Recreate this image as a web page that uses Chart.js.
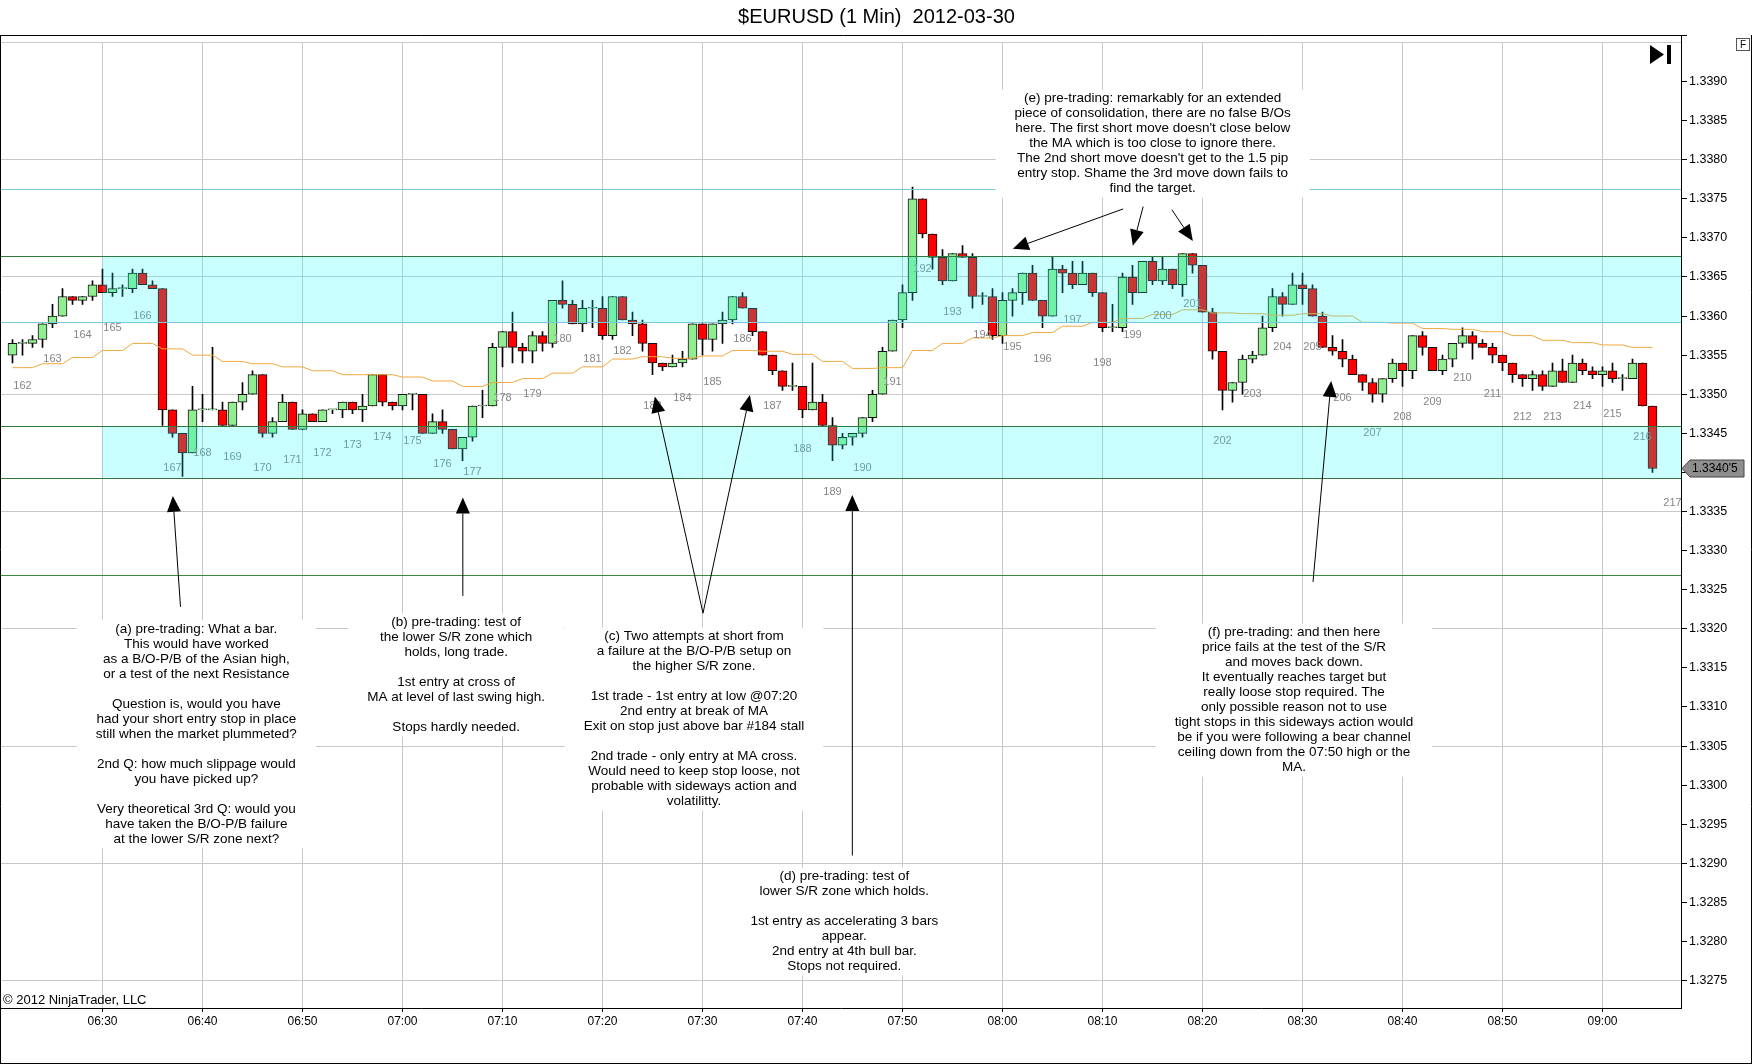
<!DOCTYPE html>
<html>
<head>
<meta charset="utf-8">
<title>$EURUSD (1 Min) 2012-03-30</title>
<script src="https://cdn.jsdelivr.net/npm/chart.js@4.4.1/dist/chart.umd.min.js"></script>
<style>
  html, body { margin: 0; padding: 0; background: #fff; }
  #wrap { width: 1752px; height: 1064px; }
</style>
</head>
<body>
<div id="wrap"><canvas id="chart" width="1752" height="1064"></canvas></div>
<script>
// one-minute bars, 06:21 - 09:05
const barTimes = [
  '06:21','06:22','06:23','06:24','06:25','06:26','06:27','06:28','06:29','06:30',
  '06:31','06:32','06:33','06:34','06:35','06:36','06:37','06:38','06:39','06:40',
  '06:41','06:42','06:43','06:44','06:45','06:46','06:47','06:48','06:49','06:50',
  '06:51','06:52','06:53','06:54','06:55','06:56','06:57','06:58','06:59','07:00',
  '07:01','07:02','07:03','07:04','07:05','07:06','07:07','07:08','07:09','07:10',
  '07:11','07:12','07:13','07:14','07:15','07:16','07:17','07:18','07:19','07:20',
  '07:21','07:22','07:23','07:24','07:25','07:26','07:27','07:28','07:29','07:30',
  '07:31','07:32','07:33','07:34','07:35','07:36','07:37','07:38','07:39','07:40',
  '07:41','07:42','07:43','07:44','07:45','07:46','07:47','07:48','07:49','07:50',
  '07:51','07:52','07:53','07:54','07:55','07:56','07:57','07:58','07:59','08:00',
  '08:01','08:02','08:03','08:04','08:05','08:06','08:07','08:08','08:09','08:10',
  '08:11','08:12','08:13','08:14','08:15','08:16','08:17','08:18','08:19','08:20',
  '08:21','08:22','08:23','08:24','08:25','08:26','08:27','08:28','08:29','08:30',
  '08:31','08:32','08:33','08:34','08:35','08:36','08:37','08:38','08:39','08:40',
  '08:41','08:42','08:43','08:44','08:45','08:46','08:47','08:48','08:49','08:50',
  '08:51','08:52','08:53','08:54','08:55','08:56','08:57','08:58','08:59','09:00',
  '09:01','09:02','09:03','09:04','09:05'
];

const opens = [
  1.3355, 1.33565, 1.33565, 1.3357, 1.3359, 1.3360, 1.33625, 1.3362, 1.33625, 1.3364,
  1.3363, 1.33635, 1.33635, 1.33655, 1.3364, 1.33635, 1.3348, 1.3345, 1.33425, 1.3348,
  1.3348, 1.3348, 1.3346, 1.3349, 1.3350, 1.33525, 1.3345, 1.33465, 1.3349, 1.33455,
  1.33475, 1.33465, 1.3348, 1.3348, 1.3349, 1.3348, 1.33485, 1.33525, 1.3349, 1.33485,
  1.3350, 1.3350, 1.3345, 1.33465, 1.33455, 1.3343, 1.33445, 1.33485, 1.33485, 1.3356,
  1.3358, 1.3356, 1.33555, 1.33575, 1.33565, 1.3362, 1.33615, 1.3359, 1.3361, 1.3361,
  1.33575, 1.33625, 1.33595, 1.3359, 1.33565, 1.3354, 1.33535, 1.3354, 1.33545, 1.3359,
  1.3357, 1.3359, 1.33595, 1.33625, 1.3361, 1.3358, 1.3355, 1.3353, 1.3351, 1.3351,
  1.3348, 1.3349, 1.3346, 1.33435, 1.33445, 1.3345, 1.3347, 1.3350, 1.33555, 1.33595,
  1.3363, 1.3375, 1.33705, 1.33675, 1.33645, 1.3368, 1.33675, 1.33625, 1.33625, 1.33575,
  1.3362, 1.3363, 1.33655, 1.3362, 1.3360, 1.3366, 1.33655, 1.3364, 1.33655, 1.3363,
  1.33585, 1.33585, 1.3365, 1.3363, 1.3367, 1.33645, 1.3366, 1.3364, 1.3368, 1.33665,
  1.33605, 1.33555, 1.33505, 1.33515, 1.33545, 1.3355, 1.33585, 1.33625, 1.33615, 1.3364,
  1.33635, 1.3360, 1.3356, 1.33555, 1.33545, 1.33525, 1.33515, 1.3350, 1.3352, 1.3354,
  1.3353, 1.33575, 1.3356, 1.3353, 1.33545, 1.33565, 1.33575, 1.33565, 1.3356, 1.3355,
  1.3354, 1.33525, 1.3352, 1.33525, 1.3351, 1.3353, 1.33515, 1.3354, 1.3353, 1.33525,
  1.3353, 1.3352, 1.3352, 1.3354, 1.33485
];

const highs = [
  1.3357, 1.3357, 1.33575, 1.3359, 1.33615, 1.33635, 1.33625, 1.33625, 1.33645, 1.3366,
  1.33655, 1.3364, 1.3366, 1.3366, 1.33645, 1.33635, 1.3348, 1.3345, 1.3351, 1.3350,
  1.3356, 1.3349, 1.3349, 1.33515, 1.3353, 1.33525, 1.3347, 1.3350, 1.3349, 1.3348,
  1.33475, 1.3348, 1.3348, 1.3349, 1.3349, 1.3350, 1.33525, 1.33525, 1.3349, 1.3350,
  1.3350, 1.3350, 1.33475, 1.3348, 1.33455, 1.33445, 1.33485, 1.33505, 1.33565, 1.3358,
  1.33605, 1.33565, 1.3358, 1.3358, 1.3362, 1.33645, 1.3362, 1.3362, 1.3362, 1.33625,
  1.33625, 1.33625, 1.33605, 1.33595, 1.33565, 1.3354, 1.3355, 1.33555, 1.3359, 1.3359,
  1.3359, 1.33605, 1.33625, 1.3363, 1.3361, 1.3358, 1.3355, 1.3353, 1.3354, 1.3351,
  1.3354, 1.3350, 1.3347, 1.3345, 1.3345, 1.3347, 1.33505, 1.3356, 1.33595, 1.3364,
  1.33765, 1.3375, 1.33705, 1.33685, 1.3368, 1.3369, 1.3368, 1.3363, 1.33635, 1.3363,
  1.33635, 1.33655, 1.33665, 1.3362, 1.33675, 1.33665, 1.3367, 1.3367, 1.33655, 1.3363,
  1.33615, 1.33655, 1.33665, 1.3367, 1.33675, 1.33675, 1.3366, 1.3368, 1.3368, 1.33665,
  1.3361, 1.33555, 1.33515, 1.3355, 1.33555, 1.3360, 1.33635, 1.3363, 1.33655, 1.33655,
  1.3364, 1.33605, 1.33575, 1.3357, 1.3355, 1.33525, 1.3352, 1.3352, 1.33545, 1.3354,
  1.33575, 1.3358, 1.3356, 1.3355, 1.33565, 1.33585, 1.3358, 1.3357, 1.33565, 1.3355,
  1.3354, 1.33525, 1.3353, 1.3353, 1.3354, 1.33545, 1.3355, 1.33545, 1.33535, 1.33535,
  1.3354, 1.33525, 1.33545, 1.3354, 1.33485
];

const lows = [
  1.3354, 1.3355, 1.3356, 1.3356, 1.33585, 1.3360, 1.33615, 1.33615, 1.3362, 1.3363,
  1.33625, 1.33625, 1.3363, 1.3364, 1.33635, 1.3346, 1.33445, 1.33395, 1.33425, 1.33465,
  1.3348, 1.3346, 1.3346, 1.3348, 1.3350, 1.33445, 1.33445, 1.33465, 1.33455, 1.33455,
  1.33465, 1.33465, 1.33475, 1.3347, 1.33475, 1.33465, 1.33485, 1.33485, 1.3348, 1.3348,
  1.3348, 1.3345, 1.3345, 1.3345, 1.3343, 1.33415, 1.3344, 1.3347, 1.33485, 1.33535,
  1.3354, 1.3354, 1.3354, 1.33555, 1.3356, 1.3361, 1.3359, 1.3358, 1.33585, 1.3357,
  1.3357, 1.33595, 1.33575, 1.33555, 1.33525, 1.3353, 1.33535, 1.33535, 1.33545, 1.3355,
  1.33555, 1.33565, 1.3359, 1.3361, 1.33575, 1.3355, 1.33525, 1.33505, 1.33505, 1.3347,
  1.3348, 1.3346, 1.33415, 1.3343, 1.33435, 1.33445, 1.33465, 1.3350, 1.33555, 1.33585,
  1.3362, 1.3370, 1.3366, 1.3364, 1.33645, 1.33675, 1.3361, 1.33615, 1.3357, 1.33565,
  1.3360, 1.33615, 1.3362, 1.33585, 1.3360, 1.3363, 1.33635, 1.3364, 1.33625, 1.3358,
  1.3358, 1.3358, 1.33615, 1.3363, 1.3364, 1.3364, 1.33635, 1.33625, 1.33655, 1.33605,
  1.33545, 1.3348, 1.3349, 1.3350, 1.3354, 1.3355, 1.3358, 1.3360, 1.33615, 1.33615,
  1.3360, 1.3356, 1.3355, 1.33535, 1.33525, 1.33505, 1.3349, 1.3349, 1.33515, 1.3351,
  1.3352, 1.3355, 1.3353, 1.33525, 1.33535, 1.3356, 1.33545, 1.3356, 1.3354, 1.3353,
  1.33515, 1.3351, 1.33505, 1.33505, 1.3351, 1.33515, 1.33515, 1.33525, 1.3352, 1.3351,
  1.33515, 1.33505, 1.3352, 1.33485, 1.3340
];

const closes = [
  1.33565, 1.33565, 1.3357, 1.3359, 1.3360, 1.33625, 1.3362, 1.33625, 1.3364, 1.3363,
  1.33635, 1.33635, 1.33655, 1.3364, 1.33635, 1.3348, 1.3345, 1.33425, 1.3348, 1.3348,
  1.3348, 1.3346, 1.3349, 1.3350, 1.33525, 1.3345, 1.33465, 1.3349, 1.33455, 1.33475,
  1.33465, 1.3348, 1.3348, 1.3349, 1.3348, 1.33485, 1.33525, 1.3349, 1.33485, 1.3350,
  1.3350, 1.3345, 1.33465, 1.33455, 1.3343, 1.33445, 1.33485, 1.33485, 1.3356, 1.3358,
  1.3356, 1.33555, 1.33575, 1.33565, 1.3362, 1.33615, 1.3359, 1.3361, 1.3361, 1.33575,
  1.33625, 1.33595, 1.3359, 1.33565, 1.3354, 1.33535, 1.3354, 1.33545, 1.3359, 1.3357,
  1.3359, 1.33595, 1.33625, 1.3361, 1.3358, 1.3355, 1.3353, 1.3351, 1.3351, 1.3348,
  1.3349, 1.3346, 1.33435, 1.33445, 1.3345, 1.3347, 1.3350, 1.33555, 1.33595, 1.3363,
  1.3375, 1.33705, 1.33675, 1.33645, 1.3368, 1.33675, 1.33625, 1.33625, 1.33575, 1.3362,
  1.3363, 1.33655, 1.3362, 1.3360, 1.3366, 1.33655, 1.3364, 1.33655, 1.3363, 1.33585,
  1.33585, 1.3365, 1.3363, 1.3367, 1.33645, 1.3366, 1.3364, 1.3368, 1.33665, 1.33605,
  1.33555, 1.33505, 1.33515, 1.33545, 1.3355, 1.33585, 1.33625, 1.33615, 1.3364, 1.33635,
  1.3360, 1.3356, 1.33555, 1.33545, 1.33525, 1.33515, 1.3350, 1.3352, 1.3354, 1.3353,
  1.33575, 1.3356, 1.3353, 1.33545, 1.33565, 1.33575, 1.33565, 1.3356, 1.3355, 1.3354,
  1.33525, 1.3352, 1.33525, 1.3351, 1.3353, 1.33515, 1.3354, 1.3353, 1.33525, 1.3353,
  1.3352, 1.3352, 1.3354, 1.33485, 1.33405
];

// moving average (orange)
const maValues = [
  1.33534, 1.33534, 1.33534, 1.33539, 1.33539, 1.33539, 1.33547, 1.33547, 1.33547,
  1.33556, 1.33556, 1.33556, 1.33565, 1.33565, 1.33565, 1.33558, 1.33558, 1.33558,
  1.3355, 1.3355, 1.3355, 1.33542, 1.33542, 1.33542, 1.33539, 1.33539, 1.33539,
  1.33535, 1.33535, 1.33535, 1.3353, 1.3353, 1.3353, 1.33525, 1.33525, 1.33525,
  1.33525, 1.33525, 1.33525, 1.33522, 1.33522, 1.33522, 1.33517, 1.33517, 1.33517,
  1.3351, 1.3351, 1.3351, 1.33515, 1.33515, 1.33515, 1.3352, 1.3352, 1.3352,
  1.33527, 1.33527, 1.33527, 1.33535, 1.33535, 1.33535, 1.33545, 1.33545, 1.33545,
  1.33548, 1.33548, 1.33548, 1.33546, 1.33546, 1.33546, 1.33549, 1.33549, 1.33549,
  1.33556, 1.33556, 1.33556, 1.33555, 1.33555, 1.33555, 1.33551, 1.33551, 1.33551,
  1.33542, 1.33542, 1.33542, 1.33533, 1.33533, 1.33533, 1.33534, 1.33534, 1.33534,
  1.33556, 1.33556, 1.33556, 1.33565, 1.33565, 1.33565, 1.33572, 1.33572, 1.33572,
  1.33575, 1.33575, 1.33575, 1.33579, 1.33579, 1.33579, 1.33587, 1.33587, 1.33587,
  1.33592, 1.33592, 1.33592, 1.33597, 1.33597, 1.33597, 1.33602, 1.33602, 1.33602,
  1.33608, 1.33608, 1.33608, 1.33604, 1.33604, 1.33604, 1.33603, 1.33603, 1.33603,
  1.33601, 1.33601, 1.33601, 1.33603, 1.33603, 1.33603, 1.3360, 1.3360, 1.3360,
  1.33592, 1.33592, 1.33592, 1.33591, 1.33591, 1.33591, 1.33584, 1.33584, 1.33584,
  1.33583, 1.33583, 1.33583, 1.3358, 1.3358, 1.3358, 1.33575, 1.33575, 1.33575,
  1.33569, 1.33569, 1.33569, 1.33566, 1.33566, 1.33566, 1.33563, 1.33563, 1.33563,
  1.3356, 1.3356, 1.3356
];

// bar counter printed under every third bar
const barNumbers = [
  162, 163, 164, 165, 166, 167, 168, 169, 170, 171, 172, 173, 174, 175, 176, 177, 178, 179, 180,
  181, 182, 183, 184, 185, 186, 187, 188, 189, 190, 191, 192, 193, 194, 195, 196, 197, 198, 199,
  200, 201, 202, 203, 204, 205, 206, 207, 208, 209, 210, 211, 212, 213, 214, 215, 216, 217
];

const timeTicks = ['06:30','06:40','06:50','07:00','07:10','07:20','07:30','07:40',
                   '07:50','08:00','08:10','08:20','08:30','08:40','08:50','09:00'];
const priceTicks = [1.3275, 1.3280, 1.3285, 1.3290, 1.3295, 1.3300, 1.3305, 1.3310, 1.3315, 1.3320,
                    1.3325, 1.3330, 1.3335, 1.3340, 1.3345, 1.3350, 1.3355, 1.3360, 1.3365, 1.3370,
                    1.3375, 1.3380, 1.3385, 1.3390];
const gridPrices = [1.3275, 1.3290, 1.3305, 1.3320, 1.3335, 1.3350, 1.3365, 1.3380, 1.3395];

// drawn S/R levels and zones
const levelPrices = [1.33763, 1.33677, 1.33592, 1.33459, 1.33393, 1.33269];
const levelColors = ['#7cc9dc', '#2f7a3c', '#7cc9dc', '#2f7a3c', '#2f7a3c', '#3a8a44'];
const zoneTops = [1.33677, 1.33459];
const zoneBottoms = [1.33592, 1.33393];
const zoneStart = '06:30';

const notes = [
  { at: ['06:39:23', 1.33200], lines: [
    '(a) pre-trading: What a bar.', 'This would have worked', 'as a B/O-P/B of the Asian high,',
    'or a test of the next Resistance', '', 'Question is, would you have',
    'had your short entry stop in place', 'still when the market plummeted?', '',
    '2nd Q: how much slippage would', 'you have picked up?', '',
    'Very theoretical 3rd Q: would you', 'have taken the B/O-P/B failure', 'at the lower S/R zone next?'] },
  { at: ['07:05:22', 1.33208], lines: [
    '(b) pre-trading: test of', 'the lower S/R zone which', 'holds, long trade.', '',
    '1st entry at cross of', 'MA at level of last swing high.', '', 'Stops hardly needed.'] },
  { at: ['07:29:09', 1.33190], lines: [
    '(c) Two attempts at short from', 'a failure at the B/O-P/B setup on', 'the higher S/R zone.', '',
    '1st trade - 1st entry at low @07:20', '2nd entry at break of MA',
    'Exit on stop just above bar #184 stall', '', '2nd trade - only entry at MA cross.',
    'Would need to keep stop loose, not', 'probable with sideways action and', 'volatilitty.'] },
  { at: ['07:44:11', 1.32883], lines: [
    '(d) pre-trading: test of', 'lower S/R zone which holds.', '',
    '1st entry as accelerating 3 bars', 'appear.', '2nd entry at 4th bull bar.', 'Stops not required.'] },
  { at: ['08:15:01', 1.33878], lines: [
    '(e) pre-trading: remarkably for an extended', 'piece of consolidation, there are no false B/Os',
    'here. The first short move doesn\'t close below', 'the MA which is too close to ignore there.',
    'The 2nd short move doesn\'t get to the 1.5 pip', 'entry stop. Shame the 3rd move down fails to',
    'find the target.'] },
  { at: ['08:29:09', 1.33195], lines: [
    '(f) pre-trading: and then here', 'price fails at the test of the S/R', 'and moves back down.',
    'It eventually reaches target but', 'really loose stop required. The', 'only possible reason not to use',
    'tight stops in this sideways action would', 'be if you were following a bear channel',
    'ceiling down from the 07:50 high or the', 'MA.'] }
];

const arrows = [
  { from: ['06:37:48', 1.33228], to: ['06:37:02', 1.33370] },
  { from: ['07:06:02', 1.33242], to: ['07:06:02', 1.33368] },
  { from: ['07:30:03', 1.33220], to: ['07:25:14', 1.33497] },
  { from: ['07:30:03', 1.33220], to: ['07:34:44', 1.33499] },
  { from: ['07:44:59', 1.32910], to: ['07:44:59', 1.33371] },
  { from: ['08:12:04', 1.33737], to: ['08:01:02', 1.33686] },
  { from: ['08:14:04', 1.33740], to: ['08:13:02', 1.33690] },
  { from: ['08:16:56', 1.33736], to: ['08:19:02', 1.33696] },
  { from: ['08:31:03', 1.33260], to: ['08:32:52', 1.33517] }
];

const FONT = 'Arial, "Liberation Sans", sans-serif';
const toMin = t => { const p = t.split(':').map(Number); return (p[0] - 6) * 60 + p[1] + (p[2] || 0) / 60; };
const near = (a, b) => Math.abs(a - b) < 1e-7;
const minutes = barTimes.map(toMin);

Chart.defaults.font.family = FONT;
Chart.defaults.color = '#000';

const overlay = {
  id: 'overlay',
  afterDatasetsDraw(chart) {
    const { ctx, chartArea: a, scales: { x, y } } = chart;
    ctx.save();
    ctx.beginPath();
    ctx.rect(a.left, a.top, a.right - a.left, a.bottom - a.top);
    ctx.clip();

    // bar counters
    ctx.font = '11px ' + FONT;
    ctx.fillStyle = '#858585';
    ctx.textAlign = 'center';
    ctx.textBaseline = 'middle';
    barNumbers.forEach((n, j) => {
      const i = 1 + 3 * j;
      const low = lows[Math.min(i, lows.length - 1)];
      ctx.fillText(String(n), x.getPixelForValue(minutes[0] + i), y.getPixelForValue(low) + 31);
    });

    // S/R zones, translucent over the bars
    const zx = x.getPixelForValue(toMin(zoneStart));
    ctx.fillStyle = 'rgba(0,255,255,0.21)';
    zoneTops.forEach((top, k) => {
      const y1 = y.getPixelForValue(top), y2 = y.getPixelForValue(zoneBottoms[k]);
      ctx.fillRect(zx, y1, a.right - zx, y2 - y1);
    });

    ctx.lineWidth = 1;
    levelPrices.forEach((p, k) => {
      const py = Math.round(y.getPixelForValue(p)) + 0.5;
      ctx.strokeStyle = levelColors[k];
      ctx.beginPath();
      ctx.moveTo(a.left, py);
      ctx.lineTo(a.right, py);
      ctx.stroke();
    });

    // text notes on white boxes
    ctx.font = '13.5px ' + FONT;
    const lh = 15;
    notes.forEach(n => {
      const cx = x.getPixelForValue(toMin(n.at[0]));
      const y0 = y.getPixelForValue(n.at[1]);
      const w = Math.max(...n.lines.map(l => ctx.measureText(l).width));
      ctx.fillStyle = '#fff';
      ctx.fillRect(cx - w / 2 - 19, y0 - 9, w + 38, (n.lines.length - 1) * lh + 18);
      ctx.fillStyle = '#000';
      n.lines.forEach((l, k) => ctx.fillText(l, cx, y0 + k * lh));
    });

    // arrows
    ctx.strokeStyle = '#000';
    ctx.fillStyle = '#000';
    arrows.forEach(ar => {
      const x1 = x.getPixelForValue(toMin(ar.from[0])), y1 = y.getPixelForValue(ar.from[1]);
      const x2 = x.getPixelForValue(toMin(ar.to[0])), y2 = y.getPixelForValue(ar.to[1]);
      const ang = Math.atan2(y2 - y1, x2 - x1);
      const L = 16, W = 7;
      const bx = x2 - L * Math.cos(ang), by = y2 - L * Math.sin(ang);
      ctx.beginPath();
      ctx.moveTo(x1, y1);
      ctx.lineTo(bx, by);
      ctx.stroke();
      ctx.beginPath();
      ctx.moveTo(x2, y2);
      ctx.lineTo(bx + W * Math.sin(ang), by - W * Math.cos(ang));
      ctx.lineTo(bx - W * Math.sin(ang), by + W * Math.cos(ang));
      ctx.closePath();
      ctx.fill();
    });
    ctx.restore();
  },
  afterDraw(chart) {
    const { ctx, chartArea: a, scales: { y } } = chart;
    ctx.save();
    ctx.strokeStyle = '#000';
    ctx.lineWidth = 1;
    // panel frame
    ctx.beginPath();
    ctx.moveTo(0, 35.5); ctx.lineTo(a.right + 6, 35.5);
    ctx.moveTo(0.5, 35); ctx.lineTo(0.5, 1064);
    ctx.moveTo(1751.5, 35); ctx.lineTo(1751.5, 1064);
    ctx.moveTo(0, 1063.5); ctx.lineTo(1752, 1063.5);
    ctx.moveTo(Math.round(a.right) + 0.5, 35); ctx.lineTo(Math.round(a.right) + 0.5, a.top);
    ctx.stroke();

    // last price marker
    const last = closes[closes.length - 1];
    const py = y.getPixelForValue(last);
    const px = a.right + 1;
    ctx.beginPath();
    ctx.moveTo(px, py);
    ctx.lineTo(px + 8, py - 8.5);
    ctx.lineTo(1744, py - 8.5);
    ctx.lineTo(1744, py + 8.5);
    ctx.lineTo(px + 8, py + 8.5);
    ctx.closePath();
    ctx.fillStyle = '#8e8e8e';
    ctx.fill();
    ctx.strokeStyle = '#444';
    ctx.stroke();
    const s = last.toFixed(5);
    ctx.fillStyle = '#000';
    ctx.font = '12px ' + FONT;
    ctx.textAlign = 'left';
    ctx.textBaseline = 'middle';
    ctx.fillText(s.slice(0, 6) + "'" + s.slice(6), px + 10, py + 0.5);

    // go-to-end button and F box
    ctx.beginPath();
    ctx.moveTo(1650, 45); ctx.lineTo(1664, 54.5); ctx.lineTo(1650, 64); ctx.closePath();
    ctx.fill();
    ctx.fillRect(1667, 45, 4, 19);
    ctx.strokeStyle = '#555';
    ctx.strokeRect(1736.5, 38.5, 13, 12);
    ctx.font = '10px ' + FONT;
    ctx.textAlign = 'center';
    ctx.fillText('F', 1743, 45);

    ctx.font = '13px ' + FONT;
    ctx.textAlign = 'left';
    ctx.fillText('\u00a9 2012 NinjaTrader, LLC', 3, 1000);
    ctx.restore();
  }
};

const ctx = document.getElementById('chart').getContext('2d');
new Chart(ctx, {
  type: 'bar',
  data: {
    datasets: [
      {
        type: 'line',
        label: 'MA',
        data: minutes.map((m, i) => ({ x: m, y: maValues[i] })),
        borderColor: 'rgb(238,168,62)',
        borderWidth: 1,
        pointRadius: 0,
        tension: 0,
        order: 0
      },
      {
        label: 'bodies',
        data: minutes.map((m, i) => ({ x: m, y: [opens[i], closes[i]] })),
        backgroundColor: c => closes[c.dataIndex] >= opens[c.dataIndex] ? '#90ee90' : '#ff0000',
        borderColor: '#111',
        borderWidth: 1,
        borderSkipped: false,
        barThickness: 9,
        minBarLength: 1,
        grouped: false,
        order: 1
      },
      {
        label: 'wicks',
        data: minutes.map((m, i) => ({ x: m, y: [lows[i], highs[i]] })),
        backgroundColor: '#000',
        barThickness: 1,
        grouped: false,
        order: 2
      }
    ]
  },
  options: {
    responsive: false,
    animation: false,
    devicePixelRatio: 1,
    layout: { padding: { left: 1, right: 0, top: 0, bottom: 0 } },
    plugins: {
      legend: { display: false },
      tooltip: { enabled: false },
      title: {
        display: true,
        text: '$EURUSD (1 Min)  2012-03-30',
        color: '#000',
        font: { size: 20, weight: 'normal' },
        padding: { top: 5.4, bottom: 13 }
      }
    },
    scales: {
      x: {
        type: 'linear',
        min: 19.85,
        max: 187.85,
        offset: false,
        grid: { offset: false, color: '#c8c8c8', tickColor: '#000', tickLength: 4 },
        border: { display: true, color: '#000' },
        ticks: {
          autoSkip: false,
          maxRotation: 0,
          padding: 2,
          font: { size: 12 },
          color: '#000',
          callback: (v, i) => timeTicks[i]
        },
        afterBuildTicks: s => { s.ticks = timeTicks.map(t => ({ value: toMin(t) })); },
        afterFit: s => { s.height = 56; }
      },
      y: {
        type: 'linear',
        position: 'right',
        min: 1.32715,
        max: 1.3395,
        beginAtZero: false,
        grid: {
          color: c => gridPrices.some(g => near(g, c.tick.value)) ? '#c8c8c8' : 'rgba(0,0,0,0)',
          tickColor: c => priceTicks.some(p => near(p, c.tick.value)) ? '#000' : 'rgba(0,0,0,0)',
          tickLength: 6
        },
        border: { display: true, color: '#000' },
        ticks: {
          autoSkip: false,
          padding: 2,
          font: { size: 12.5 },
          color: '#000',
          callback: v => priceTicks.some(p => near(p, v)) ? v.toFixed(4) : ''
        },
        afterBuildTicks: s => {
          const vals = priceTicks.concat(gridPrices.filter(g => !priceTicks.some(p => near(p, g))));
          s.ticks = vals.sort((p, q) => p - q).map(v => ({ value: v }));
        },
        afterFit: s => { s.width = 71; }
      }
    }
  },
  plugins: [overlay]
});
</script>
</body>
</html>
